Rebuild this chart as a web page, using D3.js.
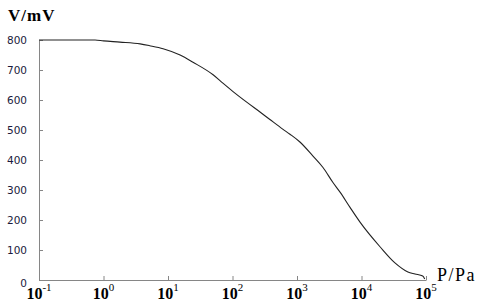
<!DOCTYPE html>
<html lang="en">
<head>
    <meta charset="UTF-8">
    <title>V vs P</title>
    <script src="https://d3js.org/d3.v7.min.js"></script>
    <style>
        body { margin: 0; background: #fff; }
        .unit { font-family: "Liberation Serif", serif; font-weight: bold; font-size: 17px; fill: #000; }
        .unit.plain { font-weight: normal; font-size: 18px; }
        .ylab text { font-family: "DejaVu Sans", Verdana, sans-serif; font-size: 10.5px; fill: #1a1a3c; }
        .xlab { font-family: "Liberation Serif", serif; font-weight: bold; font-size: 16px; fill: #000; }
    </style>
</head>
<body>
    <svg width="485" height="305"></svg>
    <script>
        // pressure (Pa) and sensor output (mV)
        const pressure = [0.1, 0.74, 1, 1.8, 3.7, 5.2, 8.4, 15.4, 24.4, 50, 71, 102, 168, 267, 380, 600,
                          778, 1110, 1770, 2530, 3610, 4680, 6640, 9550, 19500, 33000, 52400, 67600, 89000, 95500];
        const voltage = [800, 800, 797, 793, 787, 781, 771, 750, 726, 684, 656, 628, 592, 560, 535, 503,
                         486, 460, 413, 375, 325, 292, 242, 192, 110, 57, 27, 20, 13, 3];
        const yTicks = [0, 100, 200, 300, 400, 500, 600, 700, 800];
        const xTicks = [-1, 0, 1, 2, 3, 4, 5];   // powers of ten

        const svg = d3.select("svg");

        const x = d3.scaleLog().domain([0.1, 1e5]).range([39, 426]);
        const y = d3.scaleLinear().domain([0, 800]).range([280, 40]);

        const axisColor = "#868686";

        // y axis
        const gy = svg.append("g")
            .attr("class", "ylab")
            .attr("transform", "translate(39,0)")
            .call(d3.axisLeft(y).tickValues(yTicks).tickSize(-4).tickSizeOuter(0).tickPadding(12));
        gy.select(".domain").attr("stroke", axisColor);
        gy.selectAll(".tick line").attr("stroke", axisColor);
        gy.selectAll(".tick text").attr("dy", (d) => d === 0 ? "0.65em" : "0.35em");

        // x axis
        const gx = svg.append("g")
            .attr("transform", "translate(0,280)")
            .call(d3.axisBottom(x).tickValues(xTicks.map(p => Math.pow(10, p))).tickSize(-4).tickSizeOuter(0).tickFormat(""));
        gx.select(".domain").attr("stroke", axisColor);
        gx.selectAll(".tick line").attr("stroke", axisColor);

        const xl = svg.append("g").selectAll("text")
            .data(xTicks)
            .join("text")
            .attr("class", "xlab")
            .attr("x", d => x(Math.pow(10, d)))
            .attr("y", 299)
            .attr("text-anchor", "middle");
        xl.append("tspan").text("10");
        xl.append("tspan").attr("dy", -8).attr("font-size", 11).attr("font-weight", "normal").text(d => d);

        // curve
        const pts = pressure.map((p, i) => [p, voltage[i]]);
        svg.append("path")
            .datum(pts)
            .attr("fill", "none")
            .attr("stroke", "#222")
            .attr("stroke-width", 1.1)
            .attr("d", d3.line().x(d => x(d[0])).y(d => y(d[1])).curve(d3.curveMonotoneX));

        // unit labels
        svg.append("text").attr("class", "unit").attr("x", 8).attr("y", 21).attr("letter-spacing", 1).text("V/mV");
        svg.append("text").attr("class", "unit plain").attr("x", 437).attr("y", 281).attr("letter-spacing", 1.5).text("P/Pa");
    </script>
</body>
</html>
